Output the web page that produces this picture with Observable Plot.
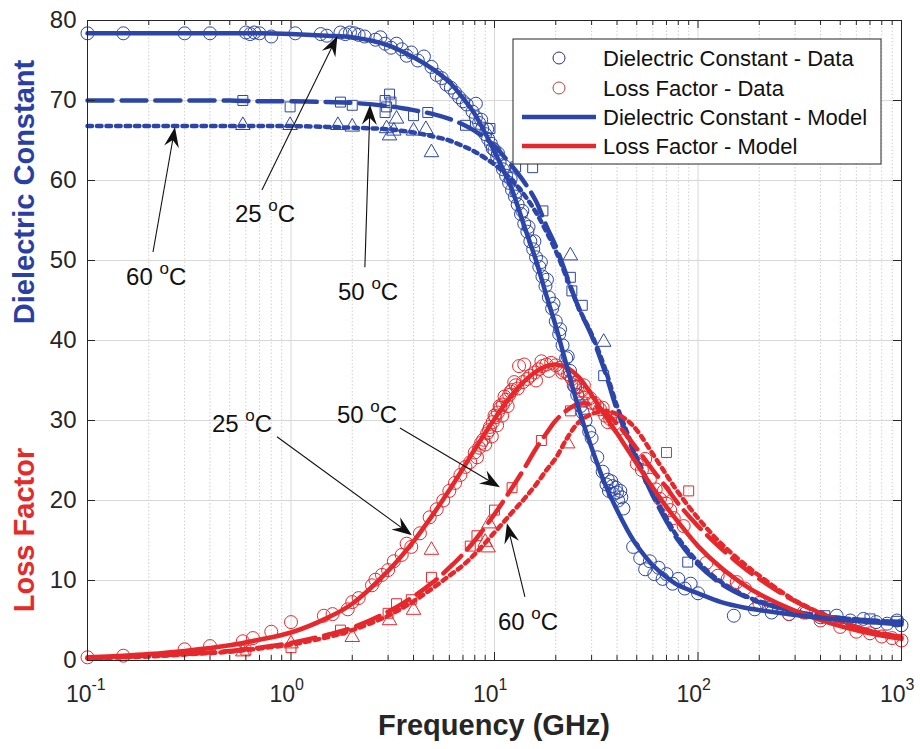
<!DOCTYPE html>
<html><head><meta charset="utf-8">
<script src="https://cdn.jsdelivr.net/npm/d3@7"></script>
<script src="https://cdn.jsdelivr.net/npm/@observablehq/plot@0.6"></script>
<style>body{margin:0;background:#fff;} #chart{width:920px;height:749px;}</style>
</head><body><div id="chart"></div>
<script>
// ---------- Model curves ----------
const modelFreq = [0.1,0.15,0.2,0.3,0.5,0.7,1,1.5,2,3,4,5,6,7,8,10,12,14,16,18,20,23,26,30,35,40,45,50,60,70,80,100,130,170,200,300,500,700,1000];
const dcModel25 = [78.4,78.4,78.4,78.4,78.4,78.4,78.3,78.1,77.9,76.9,75.4,73.9,72.3,70.3,68.3,63.6,59.3,54.3,50.0,45.6,41.8,36.2,31.4,26.6,22.0,18.8,16.3,14.4,11.9,10.4,9.4,8.4,7.3,6.6,6.3,5.7,5.1,4.8,4.5];
const dcModel50 = [70.0,70.0,70.0,70.0,70.0,69.9,69.9,69.8,69.7,69.3,68.8,68.3,67.7,67.0,66.2,64.3,62.0,59.8,57.4,54.3,51.8,47.6,44.0,40.6,36.0,31.3,28.0,25.0,20.6,17.4,15.0,12.0,9.6,8.0,7.3,6.1,5.3,5.0,4.8];
const dcModel60 = [66.8,66.8,66.8,66.8,66.8,66.8,66.8,66.7,66.6,66.4,66.0,65.5,65.0,64.3,63.6,62.0,60.2,58.2,56.0,53.6,51.2,47.4,44.0,40.8,36.4,31.8,28.4,25.4,21.0,17.8,15.3,12.3,9.8,8.1,7.4,6.1,5.3,5.0,4.8];
const lfModel25 = [0.4,0.6,0.8,1.2,1.9,2.6,3.5,5.3,7.1,11.2,14.9,18.3,21.3,24.0,26.4,30.2,33.0,34.9,36.1,36.8,37.0,36.5,35.4,33.2,30.6,28.4,26.4,24.6,21.6,19.2,17.3,14.3,11.6,9.4,8.3,6.2,4.3,3.4,2.7];
const lfModel50 = [0.3,0.45,0.6,0.8,1.2,1.6,2.2,3.2,4.1,6.1,8.0,9.8,11.6,13.3,15.0,18.3,21.3,24.0,26.5,28.4,30.0,31.4,32.1,32.0,31.0,29.6,28.0,26.5,23.8,21.6,19.6,16.8,14.0,11.5,10.2,7.4,4.9,3.7,2.9];
const lfModel60 = [0.25,0.4,0.5,0.75,1.1,1.5,2.0,2.9,3.8,5.6,7.4,9.1,10.6,11.9,13.3,16.0,18.3,20.2,22.0,23.8,25.3,28.0,29.8,30.8,31.2,30.8,30.0,28.8,25.8,23.2,21.0,17.8,14.6,12.0,10.6,7.5,4.9,3.7,2.9];

// ---------- Measured data ----------
const dcData25F = [0.1,0.15,0.3,0.4,0.6,0.63,0.66,0.7,0.8,1.05,1.4,1.5,1.75,1.85,1.95,2.05,2.15,2.3,2.6,2.75,2.9,3.1,3.3,3.5,3.7,3.9,4.2,4.5,4.9,5.2,5.5,5.8,6.1,6.4,6.7,7.0,7.3,7.8,8.1,8.1,8.4,8.7,9.0,9.3,9.6,10.0,10.3,10.6,11.0,11.4,11.8,12.2,12.6,13.0,13.5,14.0,14.5,15.0,15.5,16.0,16.6,17.2,17.8,18.5,19.2,20.0,20.8,21.6,22.5,23.5,24.5,25.5,26.5,28,30,32,34,35.5,36.5,37.5,38.5,39.5,40.5,41.5,43,48,52,55,58,61,64,67,70,75,80,86,92,100,150,190,230,280,340,400,480,560,650,750,850,950,1000,
  8.6,9.2,9.8,10.4,11.2,12.0,12.8,13.7,14.7,15.7,16.9,18.1,19.5,21.0,22.9,24.9,27.1,29.2,36,38,40,42];
const dcData25V = [78.4,78.4,78.4,78.4,78.5,78.3,78.5,78.4,78.0,78.4,78.3,78.1,78.5,78.3,78.5,78.4,78.2,78.0,77.6,77.9,77.1,76.6,77.1,76.4,75.6,76.0,75.0,75.5,74.2,73.2,72.8,72.0,71.6,71.0,70.4,69.9,69.5,68.6,69.6,67.9,67.2,66.5,65.8,65.2,64.6,63.8,63.0,62.3,61.4,60.6,59.7,58.8,58.0,57.0,55.8,54.6,53.6,52.4,51.4,50.4,49.2,48.0,46.8,45.4,44.0,42.4,40.8,39.4,37.8,36.2,34.4,33.2,31.8,30.0,27.8,25.4,23.6,22.0,21.2,22.4,20.8,21.6,20.0,21.2,19.0,14.2,12.8,11.4,12.4,10.8,11.6,10.2,10.8,9.6,10.2,9.0,9.6,8.4,5.6,6.4,6.0,5.8,6.0,5.4,5.6,5.0,5.2,4.8,4.6,5.0,4.4,
  67.6,66.4,64.0,63.4,61.8,60.2,58.6,56.2,54.2,52.4,49.8,47.6,44.6,41.4,38.0,34.2,31.0,28.6,22.6,21.8,21.0,20.4];
const lfData25F = [0.1,0.15,0.3,0.4,0.58,0.65,0.8,1.0,1.45,1.6,1.9,2.0,2.15,2.5,2.6,2.8,3.0,3.2,3.5,3.7,3.9,4.3,4.8,5.2,5.6,6.0,6.4,6.8,7.2,7.6,8.0,8.4,8.8,9.2,9.5,9.8,10.1,10.4,10.7,11.0,11.4,11.8,12.2,12.7,13.2,14.0,13.8,14.5,15.0,15.8,16.5,17.2,18.0,19.0,20.0,21.0,22.0,23.0,24.0,25.0,26.0,27.0,28.0,29.5,31,33,35,37,39,41,50,53,55,58,62,65,68,70,73,76,85,110,125,140,155,170,200,230,280,330,400,500,600,700,800,900,1000,
  8.2,8.6,9.0,9.4,9.7,10.0,10.3,10.6,10.9,11.2,11.6,12.0,12.5,13.0,16.0,17.0,18.5,21.5,23.5,25.5,27.5,30,32,34,36];
const lfData25V = [0.4,0.6,1.4,1.8,2.4,2.8,3.6,4.8,5.6,5.8,6.4,7.3,7.8,9.4,10.1,10.7,11.3,12.4,13.2,14.6,14.2,15.9,17.9,18.9,20.0,21.2,22.2,23.2,24.2,24.8,26.0,26.6,27.6,28.4,29.2,29.8,30.4,31.0,31.6,32.0,32.6,33.2,33.8,34.4,36.8,37.0,34.8,35.2,35.6,36.0,36.4,36.8,37.0,37.2,36.9,36.6,36.2,35.8,35.2,34.7,34.2,33.8,33.4,32.8,32.2,31.4,30.6,30.2,29.6,29.0,24.6,23.8,25.2,22.6,21.4,20.2,21.2,19.6,18.8,17.8,16.8,12.2,10.6,10.2,9.8,9.0,7.2,6.8,5.8,6.0,5.0,4.2,3.6,3.4,3.0,2.8,2.5,
  25.4,27.2,27.0,28.8,28.0,30.6,29.4,31.8,30.6,33.0,31.8,33.6,34.8,34.0,35.0,37.4,36.2,36.0,35.6,34.2,34.4,32.2,31.8,31.6,29.8];
const dcData50F = [0.58,0.99,1.75,2.0,2.9,2.95,2.9,3.05,3.1,4.0,4.7,7.2,9.5,12.7,15.4,17.3,23.6,24.0,27.0,34.4,89,220,420,700,950];
const dcData50V = [70.0,69.2,69.8,69.4,70.0,69.2,68.5,70.8,69.8,68.1,68.5,66.9,66.5,61.7,61.6,56.2,47.9,46.2,44.4,35.6,12.3,6.8,5.6,5.2,4.9];
const dcData60F = [0.58,0.99,1.7,2.0,2.95,3.05,3.3,3.2,4.0,4.6,4.9,23.6,34.4];
const dcData60V = [66.9,66.9,66.9,66.7,66.5,65.6,67.7,66.2,66.2,66.4,63.5,50.6,39.8];
const lfData50F = [0.6,1.0,1.75,3.0,3.3,3.9,4.9,7.6,8.2,10.0,12.2,17.0,23.6,27.0,70,90];
const lfData50V = [1.3,1.6,3.8,5.9,7.1,7.6,10.4,14.3,15.6,18.8,21.6,27.5,31.2,32.3,26.0,21.2];
const lfData60F = [0.58,1.0,2.0,3.05,4.0,4.9,9.0,9.3,9.4,22.9];
const lfData60V = [1.1,2.1,2.9,5.0,6.3,13.8,14.8,14.1,17.1,27.1];

// ---------- Axis ticks ----------
const xMajor = [0.1,1,10,100,1000];
const xExp = ["-1","0","1","2","3"];
const yTicks = [0,10,20,30,40,50,60,70,80];

// ---------- Annotations (data coordinates) ----------
const annText   = ["25","60","50","25","50","60"];
const annLabelF = [0.533,0.1556,1.712,0.411,1.692,10.46];
const annLabelV = [54.75,46.9,45.0,28.5,29.6,3.75];
const annTailF  = [0.724,0.211,2.32,0.858,3.45,14.19];
const annTailV  = [58.75,51.0,49.1,27.9,29.0,7.9];
const annTipF   = [1.7,0.2706,2.459,3.95,10.7,11.58];
const annTipV   = [78.0,66.6,69.4,15.6,21.6,17.1];

const legendLabels = ["Dielectric Constant - Data","Loss Factor - Data","Dielectric Constant - Model","Loss Factor - Model"];

const BLUE = "#2c45a8", RED = "#e6282c", AX = "#262626";
const FONT = "'Liberation Sans', Arial, Helvetica, sans-serif";
const W = 920, H = 749, ML = 87, MR = 19, MT = 20, MB = 89;
const PH = H - MT - MB, PW = W - ML - MR;

const pts = (fs, vs) => fs.map((f, i) => ({f, v: vs[i]}));
const xMinor = [];
for (const d of [0.1,1,10,100]) for (let k = 2; k <= 9; k++) xMinor.push(+(d*k).toPrecision(3));

const lineOpts = (stroke, dash) => ({x: "f", y: "v", stroke, strokeWidth: 4.5, curve: "catmull-rom", strokeDasharray: dash});
const dotOpts = (symbol, r, stroke) => ({x: "f", y: "v", symbol, r, stroke, fill: "none", strokeWidth: 1});

const chart = Plot.plot({
  width: W, height: H, marginLeft: ML, marginRight: MR, marginTop: MT, marginBottom: MB,
  x: {type: "log", domain: [0.1, 1000], axis: null},
  y: {domain: [0, 80], axis: null},
  style: {fontFamily: FONT, background: "#fff", overflow: "visible"},
  marks: [
    Plot.ruleX(xMinor, {stroke: "#c4c4c4", strokeWidth: 0.8, strokeDasharray: "1.5,2"}),
    Plot.ruleX(xMajor.slice(1, -1), {stroke: "#d4d4d4", strokeWidth: 0.9}),
    Plot.ruleY(yTicks.slice(1, -1), {stroke: "#d4d4d4", strokeWidth: 0.9}),
    Plot.dot(pts(dcData25F, dcData25V), dotOpts("circle", 6.5, BLUE)),
    Plot.dot(pts(dcData50F, dcData50V), dotOpts("square", 5.6, BLUE)),
    Plot.dot(pts(dcData60F, dcData60V), dotOpts("triangle", 5.4, BLUE)),
    Plot.dot(pts(lfData25F, lfData25V), dotOpts("circle", 6.5, RED)),
    Plot.dot(pts(lfData50F, lfData50V), dotOpts("square", 5.6, RED)),
    Plot.dot(pts(lfData60F, lfData60V), dotOpts("triangle", 5.4, RED)),
    Plot.line(pts(modelFreq, dcModel50), lineOpts(BLUE, "25,9")),
    Plot.line(pts(modelFreq, dcModel60), lineOpts(BLUE, "4.5,5")),
    Plot.line(pts(modelFreq, lfModel50), lineOpts(RED, "25,9")),
    Plot.line(pts(modelFreq, lfModel60), lineOpts(RED, "4.5,5")),
    Plot.line(pts(modelFreq, lfModel25), lineOpts(RED)),
    Plot.line(pts(modelFreq, dcModel25), lineOpts(BLUE)),
    Plot.frame({stroke: AX, strokeWidth: 1}),
    Plot.ruleX(xMinor, {stroke: AX, insetTop: PH - 5}),
    Plot.ruleX(xMinor, {stroke: AX, insetBottom: PH - 5}),
    Plot.ruleX(xMajor, {stroke: AX, insetTop: PH - 8}),
    Plot.ruleX(xMajor, {stroke: AX, insetBottom: PH - 8}),
    Plot.ruleY(yTicks, {stroke: AX, insetRight: PW - 8}),
    Plot.ruleY(yTicks, {stroke: AX, insetLeft: PW - 8}),
    Plot.text(yTicks, {x: () => 0.1, y: d => d, text: d => String(d), textAnchor: "end", dx: -11, fontSize: 24, fill: AX}),
    Plot.text(xMajor, {x: d => d, y: () => 0, text: () => "10", textAnchor: "end", dx: 4, dy: 34, fontSize: 23, fill: AX}),
    Plot.text(xMajor, {x: d => d, y: () => 0, text: (d, i) => xExp[i], textAnchor: "start", dx: 4, dy: 24, fontSize: 16, fill: AX})
  ]
});
document.getElementById("chart").appendChild(chart);

const svg = d3.select(chart);
const sx = chart.scale("x").apply, sy = chart.scale("y").apply;

// axis titles
svg.append("text").attr("x", 494).attr("y", 735).attr("text-anchor", "middle")
  .attr("font-family", FONT).attr("font-weight", "bold").attr("font-size", 29).attr("fill", AX).text("Frequency (GHz)");
svg.append("text").attr("transform", "translate(34,192) rotate(-90)").attr("text-anchor", "middle")
  .attr("font-family", FONT).attr("font-weight", "bold").attr("font-size", 29).attr("fill", "#2a3fa3").text("Dielectric Constant");
svg.append("text").attr("transform", "translate(34,530) rotate(-90)").attr("text-anchor", "middle")
  .attr("font-family", FONT).attr("font-weight", "bold").attr("font-size", 29).attr("fill", "#e52a2a").text("Loss Factor");

// annotations
const ann = svg.append("g");
annText.forEach((t, i) => {
  const x1 = sx(annTailF[i]), y1 = sy(annTailV[i]), x2 = sx(annTipF[i]), y2 = sy(annTipV[i]);
  const dx = x2 - x1, dy = y2 - y1, len = Math.hypot(dx, dy);
  const ux = dx / len, uy = dy / len, nx = -uy, ny = ux;
  const L = 20, Wd = 7.5;
  ann.append("line").attr("x1", x1).attr("y1", y1).attr("x2", x2 - ux * L * 0.6).attr("y2", y2 - uy * L * 0.6)
    .attr("stroke", "#111").attr("stroke-width", 1.1);
  const p = [[x2, y2], [x2 - ux * L + nx * Wd, y2 - uy * L + ny * Wd], [x2 - ux * L * 0.65, y2 - uy * L * 0.65], [x2 - ux * L - nx * Wd, y2 - uy * L - ny * Wd]];
  ann.append("polygon").attr("points", p.map(q => q.join(",")).join(" ")).attr("fill", "#111");
  const tx = ann.append("text").attr("x", sx(annLabelF[i])).attr("y", sy(annLabelV[i])).attr("text-anchor", "start")
    .attr("font-family", FONT).attr("font-size", 24).attr("fill", "#111");
  tx.append("tspan").text(t + " ");
  tx.append("tspan").attr("font-size", 17).attr("dy", -11).text("o");
  tx.append("tspan").attr("dy", 11).text("C");
});

// legend
const lg = svg.append("g").attr("font-family", FONT).attr("text-anchor", "start");
lg.append("rect").attr("x", 513).attr("y", 39).attr("width", 368).attr("height", 125)
  .attr("fill", "#fff").attr("stroke", AX).attr("stroke-width", 1);
const rowY = [58, 88, 117, 146];
lg.append("circle").attr("cx", 559).attr("cy", rowY[0]).attr("r", 6).attr("fill", "none").attr("stroke", "#262f8a").attr("stroke-width", 1);
lg.append("circle").attr("cx", 559).attr("cy", rowY[1]).attr("r", 6).attr("fill", "none").attr("stroke", "#b8403c").attr("stroke-width", 1);
lg.append("line").attr("x1", 522).attr("x2", 596).attr("y1", rowY[2]).attr("y2", rowY[2]).attr("stroke", BLUE).attr("stroke-width", 4.5);
lg.append("line").attr("x1", 522).attr("x2", 596).attr("y1", rowY[3]).attr("y2", rowY[3]).attr("stroke", RED).attr("stroke-width", 4.5);
legendLabels.forEach((t, i) => {
  lg.append("text").attr("x", 603).attr("y", rowY[i] + 8).attr("text-anchor", "start").attr("font-size", 22).attr("fill", "#111").text(t);
});
</script>
</body></html>
